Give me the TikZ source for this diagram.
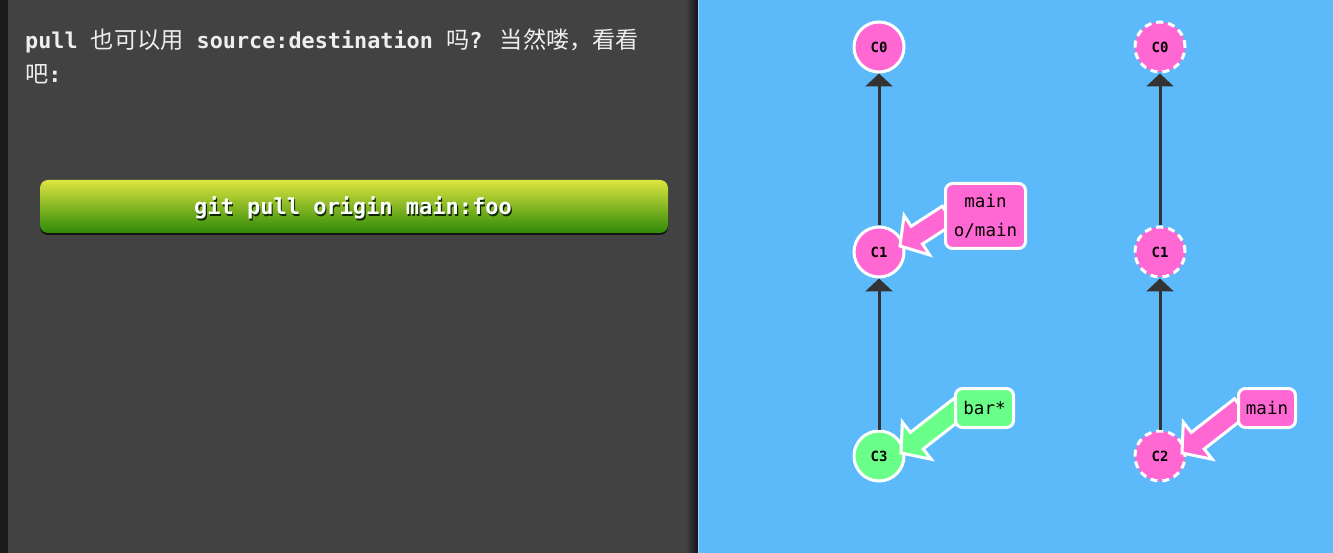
\documentclass[tikz,border=0pt]{standalone}
\usepackage{fontspec}
\setmainfont{DejaVu Sans}
\newfontfamily\monof{DejaVu Sans Mono}
\newfontfamily\cjk{Noto Sans CJK SC}
\usetikzlibrary{arrows.meta,calc}
\definecolor{panel}{HTML}{424242}
\definecolor{strip}{HTML}{1C1C1C}
\definecolor{sky}{HTML}{5CBAFB}
\definecolor{pinkc}{HTML}{FF68D2}
\definecolor{greenc}{HTML}{6AFF88}
\definecolor{edgec}{HTML}{333333}
\definecolor{txt}{HTML}{EEEEEE}
\definecolor{btop}{HTML}{DDE540}
\definecolor{bbot}{HTML}{2E8908}
\newcommand\CJ[1]{{\cjk\mdseries\fontsize{23.2pt}{28pt}\selectfont #1}}
\newcommand\brarrow[3]{%
  \coordinate (hb) at ($(#1)!20pt!(#2)$);
  \filldraw[draw=white, line width=3pt, fill=#3, line join=miter, miter limit=10]
    (#1) -- ($(hb)!23.5pt!90:(#1)$) -- ($(hb)!10.5pt!90:(#1)$) -- ($(#2)!10.5pt!90:(#1)$)
    -- ($(#2)!10.5pt!-90:(#1)$) -- ($(hb)!10.5pt!-90:(#1)$) -- ($(hb)!23.5pt!-90:(#1)$) -- cycle;}
\tikzset{
  commit/.style={circle, minimum size=50pt, inner sep=0pt, fill=pinkc, draw=white, line width=3pt,
    font=\monof\bfseries\fontsize{14pt}{16pt}\selectfont},
  ghost/.style={commit, dash pattern=on 7pt off 5pt},
  branch/.style={rounded corners=7pt, draw=white, line width=3pt, fill=pinkc, inner sep=0pt,
    align=center, font=\monof\fontsize{17.5pt}{20pt}\selectfont},
  edge/.style={draw=edgec, line width=3pt, -{Triangle[width=27pt,length=13pt]}},
  lefttext/.style={anchor=base west, inner sep=0pt, text=txt, font=\monof\bfseries\fontsize{21.8pt}{26pt}\selectfont},
}
\begin{document}
\begin{tikzpicture}[x=1pt,y=-1pt]
\useasboundingbox (0,0) rectangle (1333,553);
% backgrounds
\fill[strip] (0,0) rectangle (8,553);
\fill[panel] (8,0) rectangle (688,553);
\shade[left color=panel, right color=black!75!panel] (686,0) rectangle (698,553);
\fill[sky] (698,0) rectangle (1333,553);
\draw[white!40!sky, line width=0.8pt] (698.4,0) -- (698.4,553);
% left text
\node[lefttext] (line1) at (25,48.5) {pull \CJ{也可以用} source:destination \CJ{吗}? \CJ{当然喽，}\CJ{看看}};
\node[lefttext] (line2) at (25,83) {\CJ{吧}:};
% button
\fill[black, opacity=0.7, rounded corners=8pt] (40,182) rectangle (668,235);
\shade[top color=btop, bottom color=bbot, rounded corners=8pt] (40,180) rectangle (668,233);
\node[text=black!70!bbot, font=\monof\bfseries\fontsize{22pt}{24pt}\selectfont] (btnsh) at (354.2,209.6) {git pull origin main:foo};
\node[text=white, font=\monof\bfseries\fontsize{22pt}{24pt}\selectfont] (btn) at (353,208) {git pull origin main:foo};
% left tree
\node[commit] (a0) at (879,47) {C0};
\node[commit] (a1) at (879,252) {C1};
\node[commit, fill=greenc] (a3) at (879,456) {C3};
\draw[edge] (a1) -- (a0);
\draw[edge] (a3) -- (a1);
\coordinate (ta1) at ($(a1.center)+(21,-6)$);
\coordinate (la1) at (948,215);
\brarrow{ta1}{la1}{pinkc}
\node[branch, minimum width=80pt, minimum height=65pt] (bm1) at (985.5,216) {main\\[9pt]o/main};
\coordinate (ta3) at ($(a3.center)+(22,-3)$);
\coordinate (la3) at (960,407);
\brarrow{ta3}{la3}{greenc}
\node[branch, fill=greenc, minimum width=58pt, minimum height=39pt] (bb) at (984.5,408) {bar*};
% right tree
\node[ghost] (b0) at (1160,47) {C0};
\node[ghost] (b1) at (1160,252) {C1};
\node[ghost] (b2) at (1160,456) {C2};
\draw[edge] (b1) -- (b0);
\draw[edge] (b2) -- (b1);
\coordinate (tb2) at ($(b2.center)+(22,-3)$);
\coordinate (lb2) at (1241,407);
\brarrow{tb2}{lb2}{pinkc}
\node[branch, minimum width=57pt, minimum height=39pt] (bm2) at (1267,408) {main};
\end{tikzpicture}
\end{document}
